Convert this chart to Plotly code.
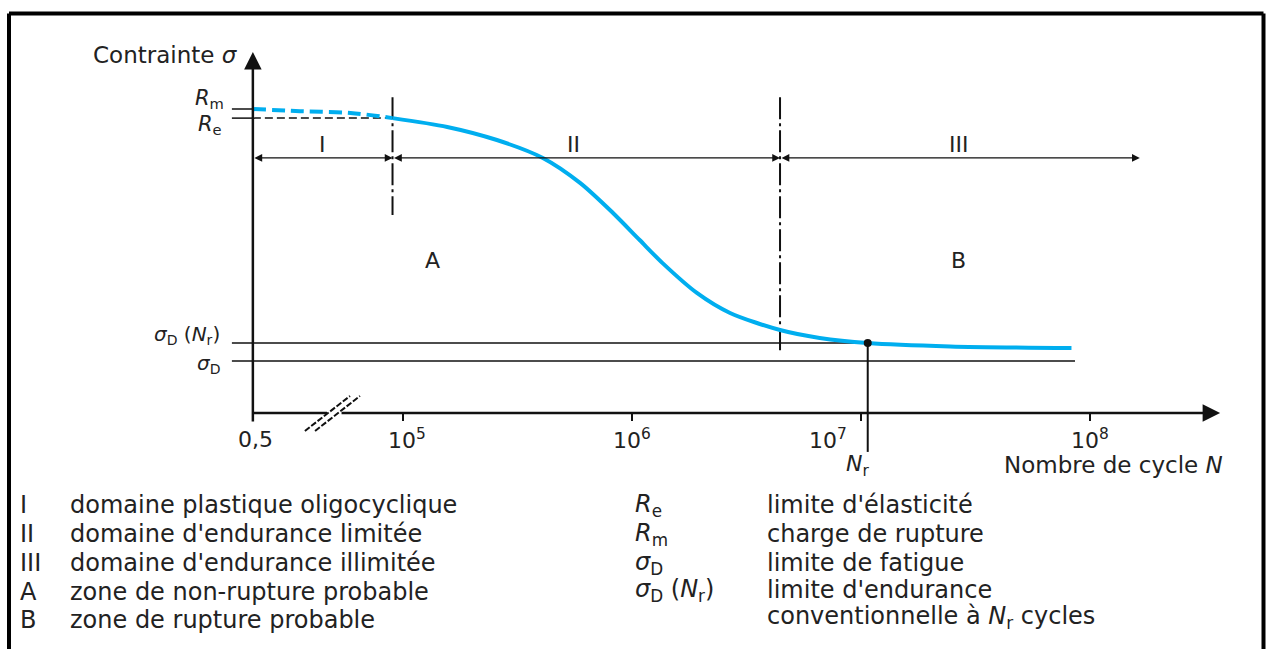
import numpy as np
import plotly.graph_objects as go

# ---------------- data ----------------
# Wöhler curve (N in cycles, sigma in relative units, R_m = 100)
N_curve_plastic = [2.21e4, 3.55e4, 5.9e4, 9.0e4]
sigma_curve_plastic = [100.0, 99.3, 98.7, 97.0]

N_curve = [9.0e4, 1.56e5, 2.57e5, 4.08e5, 5.93e5, 8.26e5, 1.08e6, 1.36e6,
           1.92e6, 2.68e6, 4.43e6, 6.6e6, 1.07e7, 2.45e7, 8.3e7]
sigma_curve = [97.0, 94.1, 89.8, 83.9, 75.7, 65.8, 56.9, 49.3,
               39.5, 32.9, 27.3, 24.7, 23.0, 21.9, 21.4]

R_m = 100.0          # charge de rupture
R_e = 97.0           # limite d'élasticité
sigma_D_Nr = 23.0    # limite d'endurance conventionnelle
sigma_D = 17.1       # limite de fatigue
N_r = 1.07e7

N_origin = 2.21e4            # broken origin, labelled "0,5"
N_limit_I_II = 9.0e4
N_limit_II_III = 4.43e6

x_tick_N = [1e5, 1e6, 1e7, 1e8]
x_tick_labels = ["0,5", "10<sup>5</sup>", "10<sup>6</sup>", "10<sup>7</sup>", "10<sup>8</sup>"]
domain_labels = ["I", "II", "III"]
zone_labels = ["A", "B"]

legend_keys_left = ["I", "II", "III", "A", "B"]
legend_text_left = ["domaine plastique oligocyclique",
                    "domaine d'endurance limitée",
                    "domaine d'endurance illimitée",
                    "zone de non-rupture probable",
                    "zone de rupture probable"]
legend_keys_right = ["<i>R</i><sub>e</sub>", "<i>R</i><sub>m</sub>",
                     "<i>σ</i><sub>D</sub>", "<i>σ</i><sub>D</sub> (<i>N</i><sub>r</sub>)"]
legend_text_right = ["limite d'élasticité", "charge de rupture", "limite de fatigue",
                     "limite d'endurance"]
legend_text_right_cont = "conventionnelle à <i>N</i><sub>r</sub> cycles"

# ---------------- layout geometry ----------------
W, H = 1267, 649
X_RANGE = [6 - 632 / 229, 6 + 635 / 229]          # log10(N)
Y_RANGE = [(413 - 649) / 3.04, 413 / 3.04]        # sigma

N_ref_start = 1.79e4
N_ref_end = 8.6e7
N_domain_end = 1.65e8
N_axis_end = 3.7e8
N_gap = (4.66e4, 5.31e4)
sigma_domain = 83.9
sigma_axis_top = 118.75
sigma_axis_bottom = -3.3
sigma_bound_top = 103.9
sigma_bound_I_bottom = 65.1
sigma_bound_II_bottom = 19.7
sigma_Nr_bottom = -12.8
sigma_tick_bottom = -2.6
break_N = [(3.73e4, 5.87e4), (4.13e4, 6.49e4)]
break_sigma = (-5.9, 5.6)

BLUE = "#00AEEF"
INK = "#111111"
TXT = "#222222"
FONT = "DejaVu Sans"

fig = go.Figure()


def seg(x, y, width=1.5, dash="solid", color=INK):
    fig.add_trace(go.Scatter(x=x, y=y, mode="lines",
                             line=dict(color=color, width=width, dash=dash),
                             hoverinfo="skip", showlegend=False))


# reference lines
seg([N_ref_start, N_origin], [R_m, R_m])
seg([N_ref_start, N_origin], [R_e, R_e])
seg([N_origin, N_limit_I_II], [R_e, R_e], dash="8px,4px")
seg([N_ref_start, N_r], [sigma_D_Nr, sigma_D_Nr])
seg([N_ref_start, N_ref_end], [sigma_D, sigma_D])

# domain boundaries (dash-dot)
seg([N_limit_I_II] * 2, [sigma_bound_top, sigma_bound_I_bottom], width=2, dash="22px,4px,3px,4px")
seg([N_limit_II_III] * 2, [sigma_bound_top, sigma_bound_II_bottom], width=2, dash="22px,4px,3px,4px")

# N_r vertical
seg([N_r] * 2, [sigma_D_Nr, sigma_Nr_bottom], width=2)

# x axis (first part, before the break) and ticks
seg([N_origin, N_gap[0]], [0, 0], width=2.5)
tx, ty = [], []
for n in x_tick_N:
    tx += [n, n, None]
    ty += [0, sigma_tick_bottom, None]
seg(tx, ty, width=2)

# axis break marks
for a, b in break_N:
    seg([a, b], list(break_sigma), width=2, dash="6px,2px")

# Wöhler curve
fig.add_trace(go.Scatter(x=N_curve_plastic, y=sigma_curve_plastic, mode="lines",
                         line=dict(color=BLUE, width=4, dash="13px,6px", shape="spline"),
                         hoverinfo="skip", showlegend=False))
fig.add_trace(go.Scatter(x=N_curve, y=sigma_curve, mode="lines",
                         line=dict(color=BLUE, width=4, shape="spline", smoothing=0.8),
                         hoverinfo="skip", showlegend=False))
fig.add_trace(go.Scatter(x=[N_r], y=[sigma_D_Nr], mode="markers",
                         marker=dict(color=INK, size=8, symbol="circle"),
                         hoverinfo="skip", showlegend=False))

ann = []
L = np.log10


def arrow(x, y, ax, ay, width, size=1.0, side="end"):
    ann.append(dict(x=x, y=y, ax=ax, ay=ay, xref="x", yref="y", axref="x", ayref="y",
                    text="", showarrow=True, arrowhead=2, arrowsize=size,
                    arrowwidth=width, arrowcolor=INK, arrowside=side,
                    standoff=0, startstandoff=0))


# axes arrows
arrow(L(N_origin), sigma_axis_top, L(N_origin), sigma_axis_bottom, 2.5, 1.4)
arrow(L(N_axis_end), 0, L(N_gap[1]), 0, 2.5, 1.4)
# domain dimension arrows
bounds = [N_origin, N_limit_I_II, N_limit_II_III, N_domain_end]
for i in range(3):
    arrow(L(bounds[i + 1]), sigma_domain, L(bounds[i]), sigma_domain, 1.3, 1.2, "end+start")


def txt(text, px, py, size=22, xanchor="center", color=TXT):
    ann.append(dict(text=text, x=px / W, y=1 - py / H, xref="paper", yref="paper",
                    xanchor=xanchor, yanchor="middle", showarrow=False,
                    font=dict(family=FONT, size=size, color=color), align="left"))


# chart texts
txt("Contrainte <i>σ</i>", 240, 55, size=23, xanchor="right")
txt("<i>R</i><sub>m</sub>", 226, 99, size=21, xanchor="right")
txt("<i>R</i><sub>e</sub>", 224, 125, size=21, xanchor="right")
txt("<i>σ</i><sub>D</sub> (<i>N</i><sub>r</sub>)", 222, 335, size=20, xanchor="right")
txt("<i>σ</i><sub>D</sub>", 222, 364, size=20, xanchor="right")
for lab, px in zip(x_tick_labels, [255, 407, 632, 828, 1090]):
    txt(lab, px, 439, size=22)
txt("<i>N</i><sub>r</sub>", 857, 465, size=22)
txt("Nombre de cycle <i>N</i>", 1225, 465, size=23, xanchor="right")
for lab, px in zip(domain_labels, [322, 573, 958]):
    txt(lab, px, 144, size=22)
for lab, px in zip(zone_labels, [432, 958]):
    txt(lab, px, 261, size=22)

# legend block
LEG = 24
rows_left = [505, 534, 563, 592, 620]
for k, t, py in zip(legend_keys_left, legend_text_left, rows_left):
    txt(k, 18, py, size=LEG, xanchor="left")
    txt(t, 68, py, size=LEG, xanchor="left")
rows_right = [505, 534, 563, 590]
for k, t, py in zip(legend_keys_right, legend_text_right, rows_right):
    txt(k, 633, py, size=LEG, xanchor="left")
    txt(t, 765, py, size=LEG, xanchor="left")
txt(legend_text_right_cont, 765, 617, size=LEG, xanchor="left")

# frame (left, top, right)
frame = [dict(type="line", xref="paper", yref="paper", x0=9 / W, x1=9 / W, y0=0, y1=1 - 13.5 / H),
         dict(type="line", xref="paper", yref="paper", x0=9 / W, x1=1263.5 / W, y0=1 - 13.5 / H, y1=1 - 13.5 / H),
         dict(type="line", xref="paper", yref="paper", x0=1263.5 / W, x1=1263.5 / W, y0=0, y1=1 - 13.5 / H)]
for f in frame:
    f["line"] = dict(color="black", width=4)

fig.update_layout(
    width=W, height=H, margin=dict(l=0, r=0, t=0, b=0, pad=0),
    paper_bgcolor="white", plot_bgcolor="white",
    xaxis=dict(type="log", range=X_RANGE, visible=False, fixedrange=True),
    yaxis=dict(range=Y_RANGE, visible=False, fixedrange=True),
    annotations=ann, shapes=frame, showlegend=False,
)

fig.write_html("out.html")
